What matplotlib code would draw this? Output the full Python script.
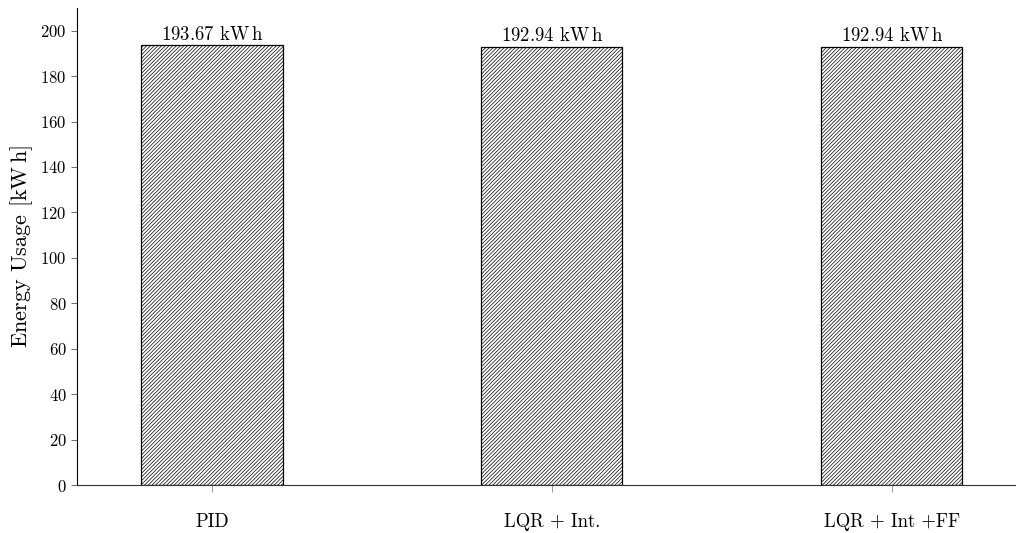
import numpy as np
import matplotlib
matplotlib.use("Agg")
import matplotlib.pyplot as plt

# data
controllers = ["PID", "LQR + Int.", "LQR + Int +FF"]
energy_kwh = [193.67, 192.94, 192.94]
y_ticks = [0, 20, 40, 60, 80, 100, 120, 140, 160, 180, 200]

plt.rcParams['font.family'] = 'serif'
plt.rcParams['font.serif'] = ['cmr10']
plt.rcParams['mathtext.fontset'] = 'cm'
plt.rcParams['axes.formatter.use_mathtext'] = True
plt.rcParams['hatch.linewidth'] = 0.5
plt.rcParams['hatch.color'] = '#6a6a6a'

fig = plt.figure(figsize=(10.16, 5.33), dpi=100)
ax = fig.add_axes([77 / 1016, 48 / 533, (1016 - 77) / 1016, 477 / 533])

x = np.arange(len(controllers))
bars = ax.bar(x, energy_kwh, width=0.415, color='white', edgecolor='black',
              linewidth=0.9, hatch='/////////')

for b, v in zip(bars, energy_kwh):
    ax.text(b.get_x() + b.get_width() / 2, v + 0.6, f"{v:.2f} kW" + r"$\,$" + "h",
            ha='center', va='bottom', fontsize=13.5)

ax.set_xlim(-0.397, 2.365)
ax.set_ylim(0, 210)
ax.set_xticks(x)
ax.set_xticklabels(controllers, fontsize=13.5)
ax.set_yticks(y_ticks)
ax.tick_params(axis='y', labelsize=12, length=4, width=0.6, color='#555555', direction='out')
ax.tick_params(axis='x', length=5, width=0.6, color='#888888', pad=15)
ax.set_ylabel("Energy Usage [kW" + r"$\,$" + "h]", fontsize=16, labelpad=4)

ax.spines['right'].set_visible(False)
ax.spines['top'].set_visible(False)
ax.spines['left'].set_linewidth(0.8)
ax.spines['bottom'].set_linewidth(0.8)
ax.spines['bottom'].set_color('#333333')

fig.savefig("out.png", dpi=100)
